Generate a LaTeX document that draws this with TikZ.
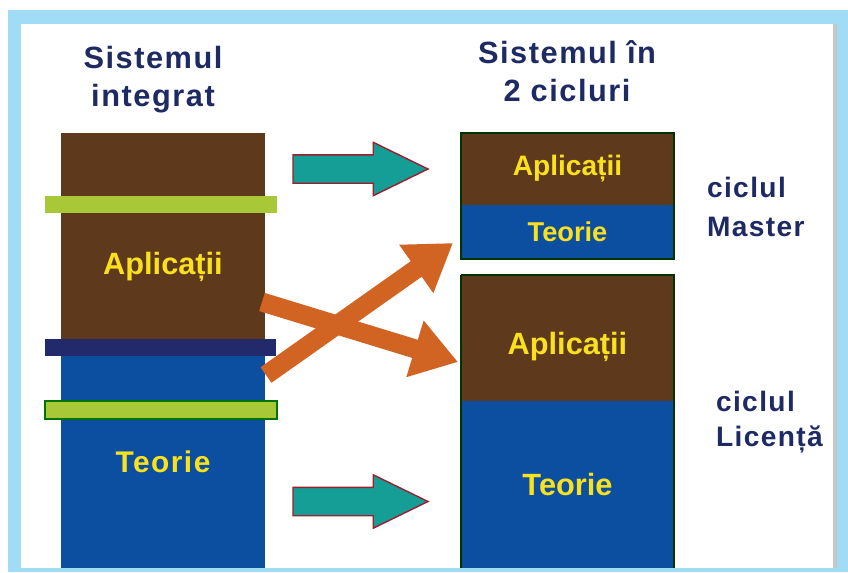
\documentclass[tikz,border=0pt]{standalone}
\usepackage{fontspec}
\setmainfont{Liberation Sans}
\newfontfamily\titlefont[LetterSpace=5]{Liberation Sans}
\usepackage{xcolor}
\usetikzlibrary{positioning, arrows.meta, shapes.arrows}

\definecolor{frameblue}{HTML}{A0DCF5}
\definecolor{appbrown}{HTML}{5E391C}
\definecolor{teoblue}{HTML}{0C4EA0}
\definecolor{barnavy}{HTML}{222A6C}
\definecolor{bargreen}{HTML}{A8C838}
\definecolor{labelyellow}{HTML}{FAE11E}
\definecolor{titlenavy}{HTML}{1E2A64}
\definecolor{arrowteal}{HTML}{149E96}
\definecolor{arrowred}{HTML}{9A2030}
\definecolor{arroworange}{HTML}{D26423}

\begin{document}
\begin{tikzpicture}[
  x=0.02cm, y=-0.02cm,
  every node/.style={inner sep=0pt, outer sep=0pt},
  block/.style={minimum width=4.08cm, anchor=north west},
  rblock/.style={minimum width=4.26cm, anchor=north west},
  lbl/.style={font=\bfseries\fontsize{17.5}{20}\selectfont, text=labelyellow},
  heading/.style={font=\titlefont\bfseries\fontsize{17.5}{21.5}\selectfont, text=titlenavy, align=center},
  cyclelbl/.style={font=\titlefont\bfseries\fontsize{16}{22}\selectfont, text=titlenavy, align=left, anchor=west},
  tealarrow/.style={single arrow, fill=arrowteal, draw=arrowred, line width=0.8pt,
    inner xsep=0pt, inner ysep=0.27cm, single arrow head extend=0.25cm,
    single arrow tip angle=52, minimum height=2.7cm, anchor=tail},
  orangearrow/.style={draw=arroworange, line width=0.38cm, -{Triangle[length=0.9cm, width=1.12cm]}},
  boxline/.style={draw=black!80!green, line width=1pt}
]
\useasboundingbox (0,0) rectangle (848,572);

% Frame
\fill[white] (0,0) rectangle (848,572);
\fill[frameblue] (8,10) rectangle (848,572);
\fill[white] (21,24) rectangle (833,568);
\fill[black!22] (833,24) rectangle (837,568);

% Headings
\node[heading] (integ-title) at (153,80) {Sistemul\\integrat};
\node[heading] (cicluri-title) at (567,71) {Sistemul în\\2 cicluri};

% Integrated system (left column)
\node[block, fill=appbrown, minimum height=5.36cm, lbl] (integ-app) at (61,133) {Aplicații};
\node[block, fill=teoblue, minimum height=4.24cm, lbl, font=\titlefont\bfseries\fontsize{17}{20}\selectfont] (integ-teo) at (61,356) {Teorie};
\fill[bargreen] (45,196) rectangle (277,213);
\fill[barnavy] (45,339) rectangle (276,356);
\draw[bargreen, draw=green!45!black, line width=0.6pt, fill=bargreen] (45,401) rectangle (277,419);

% Master cycle
\node[rblock, fill=appbrown, minimum height=1.44cm, lbl, font=\bfseries\fontsize{16}{20}\selectfont] (master-app) at (461,133) {Aplicații};
\node[rblock, fill=teoblue, minimum height=1.08cm, lbl, font=\bfseries\fontsize{15.5}{20}\selectfont, below=0pt of master-app] (master-teo) {Teorie};
\draw[boxline] (master-app.north west) rectangle (master-teo.south east);
\node[cyclelbl] (master-lbl) at (707,207) {ciclul\\Master};

% Licence cycle
\node[rblock, fill=appbrown, minimum height=2.52cm] (lic-app) at (461,275) {};
\node[lbl, yshift=-0.18cm] (lic-app-txt) at (lic-app) {Aplicații};
\node[rblock, fill=teoblue, minimum height=3.34cm, lbl, below=0pt of lic-app] (lic-teo) {Teorie};
\draw[boxline] (lic-app.north west) -- (lic-teo.south west)
  (lic-app.north west) -- (lic-app.north east) -- (lic-teo.south east);
\node[cyclelbl, font=\titlefont\bfseries\fontsize{16}{20}\selectfont] (lic-lbl) at (716,422) {ciclul\\Licență};

% Straight arrows
\node[tealarrow] (top-arrow) at (293,169) {};
\node[tealarrow] (bottom-arrow) at (293,501.5) {};

% Crossing arrows
\coordinate (teo-out) at (266,375);
\coordinate (master-in) at (453,243);
\coordinate (app-out) at (262,302);
\coordinate (lic-in) at (458,362);
\draw[orangearrow] (teo-out) -- (master-in);
\draw[orangearrow] (app-out) -- (lic-in);

\end{tikzpicture}
\end{document}
